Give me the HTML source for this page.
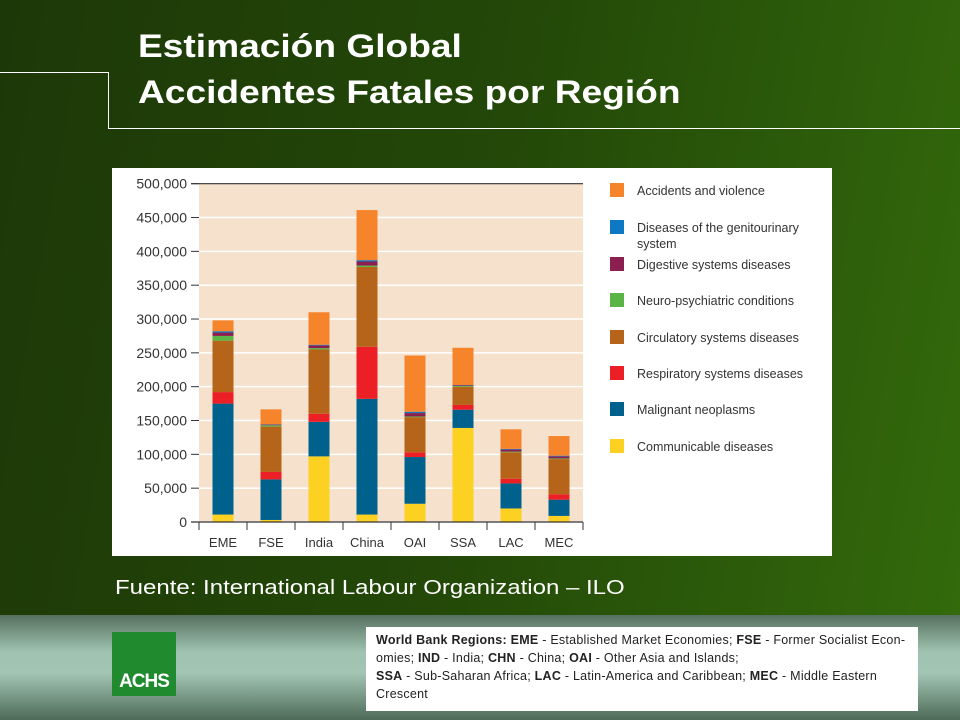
<!DOCTYPE html>
<html><head><meta charset="utf-8"><style>
body{margin:0;width:960px;height:720px;overflow:hidden;font-family:"Liberation Sans",sans-serif}
#bg{position:absolute;left:0;top:0;width:960px;height:615px;background:linear-gradient(100deg,#1d3808 0%,#234808 50%,#336a0c 100%)}
#bot{position:absolute;left:0;top:615px;width:960px;height:105px;background:linear-gradient(180deg,#56705f 0%,#9fc3b0 35%,#a3c6b4 55%,#4e6a58 100%)}
.t{position:absolute;left:138px;color:#fff;font-weight:bold;font-size:32px;transform:scaleX(1.16);transform-origin:0 0;white-space:nowrap}
.n div{white-space:nowrap}
</style></head><body>
<div id="bg"></div>
<div id="bot"></div>
<div style="position:absolute;left:0;top:72px;width:108px;height:1px;background:#fff"></div>
<div style="position:absolute;left:108px;top:72px;width:1px;height:56px;background:#fff"></div>
<div style="position:absolute;left:108px;top:128px;width:852px;height:1px;background:#fff"></div>
<div class="t" style="top:28px">Estimación Global</div>
<div class="t" style="top:74px">Accidentes Fatales por Región</div>
<div style="position:absolute;left:115px;top:577px;color:#fff;font-size:20px;transform:scaleX(1.2);transform-origin:0 0;white-space:nowrap">Fuente: International Labour Organization – ILO</div>
<div style="position:absolute;left:112px;top:632px;width:64px;height:64px;background:#1f8a2e;color:#fff;font-weight:bold;font-size:19px;display:flex;align-items:flex-end;justify-content:center"><span style="margin-bottom:3px;letter-spacing:-1px">ACHS</span></div>
<div class="n" style="position:absolute;left:366px;top:627px;width:552px;height:84px;background:#fff;font-size:12.5px;line-height:18px;color:#222;box-sizing:border-box;padding:4px 8px 0 10px;letter-spacing:0.25px">
<div><b>World Bank Regions: EME</b> - Established Market Economies; <b>FSE</b> - Former Socialist Econ-</div>
<div>omies; <b>IND</b> - India; <b>CHN</b> - China; <b>OAI</b> - Other Asia and Islands;</div>
<div><b>SSA</b> - Sub-Saharan Africa; <b>LAC</b> - Latin-America and Caribbean; <b>MEC</b> - Middle Eastern</div>
<div>Crescent</div></div>
<svg style="position:absolute;left:112px;top:168px" width="720" height="388">
<rect width="720" height="388" fill="#fff"/>
<g id="plot"></g>
</svg>
<script>
const categories=["EME","FSE","India","China","OAI","SSA","LAC","MEC"];
const seriesNames=["Communicable diseases","Malignant neoplasms","Respiratory systems diseases","Circulatory systems diseases","Neuro-psychiatric conditions","Digestive systems diseases","Diseases of the genitourinary system","Accidents and violence"];
const communicable=[11000,3000,97000,11000,27000,139000,20000,9000];
const malignant=[164000,60000,51000,171000,69000,27000,37000,24000];
const respiratory=[17000,11000,12000,77000,7000,7000,7000,8000];
const circulatory=[76000,67000,95000,118000,52000,27000,39000,52000];
const neuro=[7000,2000,2000,2000,1000,1000,1000,1000];
const digestive=[5000,1000,4000,6000,5000,1000,3000,3000];
const genito=[2000,500,1000,2000,2000,500,1000,1000];
const accidents=[16000,22000,48000,74000,83000,55000,29000,29000];
const yTicks=[0,50000,100000,150000,200000,250000,300000,350000,400000,450000,500000];
const colors=["#fdd122","#01618d","#ec1f26","#b5641a","#5ab546","#8b1f4f","#0f78c4","#f5842b"];
const series=[communicable,malignant,respiratory,circulatory,neuro,digestive,genito,accidents];
const NS="http://www.w3.org/2000/svg";
const g=document.getElementById('plot');
const x0=87,x1=471,y0=354,yTop=15.7;
const y=v=>y0-(v/500000)*(y0-yTop);
const band=(x1-x0)/categories.length;
const xc=i=>x0+band*(i+0.5);
function mk(t,a){const e=document.createElementNS(NS,t);for(const k in a)e.setAttribute(k,a[k]);g.appendChild(e);return e;}
const bg=mk('rect',{x:x0,y:y(500000),width:x1-x0,height:y0-y(500000),fill:'#f5e1cc'});


yTicks.forEach(t=>{
  const l=mk('line',{x1:x0-8,x2:x1,y1:y(t),y2:y(t),stroke:t===500000?'#333':'#fff','stroke-width':t===500000?1.2:1.5});
  
  
  const tk=mk('line',{x1:x0-8,x2:x0,y1:y(t),y2:y(t),stroke:'#333'});
  
  
  const tx=mk('text',{x:x0-12,y:y(t)+5,'text-anchor':'end','font-size':14,fill:'#333','font-family':'Liberation Sans, sans-serif'});
  tx.textContent=t.toLocaleString('en-US');
  
  
});
categories.forEach((c,i)=>{
  let acc=0;
  series.forEach((s,k)=>{
    const r=mk('rect',{x:xc(i)-10.5,width:21,y:y(acc+s[i]),height:y(acc)-y(acc+s[i]),fill:colors[k]});
    
    
    acc+=s[i];
  });
  const tx=mk('text',{x:xc(i),y:y0+25,'text-anchor':'middle','font-size':13,fill:'#333','font-family':'Liberation Sans, sans-serif'});
  tx.textContent=c;
  
  
});
for(let i=0;i<=categories.length;i++){
  const t=mk('line',{x1:x0+band*i,x2:x0+band*i,y1:y0,y2:y0+8,stroke:'#333'});
  
  
}
const ax=mk('line',{x1:x0-8,x2:x1,y1:y0,y2:y0,stroke:'#333','stroke-width':1.2});


const legY=[22,59,96,132,169,205,241,278];
for(let k=7;k>=0;k--){
  const idx=7-k;
  const sq=mk('rect',{x:498,y:legY[idx]-7,width:14,height:14,fill:colors[k]});
  
  
  const tx=mk('text',{x:525,y:legY[idx]+5,'font-size':12.5,fill:'#333','font-family':'Liberation Sans, sans-serif'});
  
  
  if(k===6){tx.textContent='Diseases of the genitourinary';
    const t2=mk('text',{x:525,y:legY[idx]+21,'font-size':12.5,fill:'#333','font-family':'Liberation Sans, sans-serif'});
    t2.textContent='system';
    
    
  } else tx.textContent=seriesNames[k];
}
</script>
</body></html>
